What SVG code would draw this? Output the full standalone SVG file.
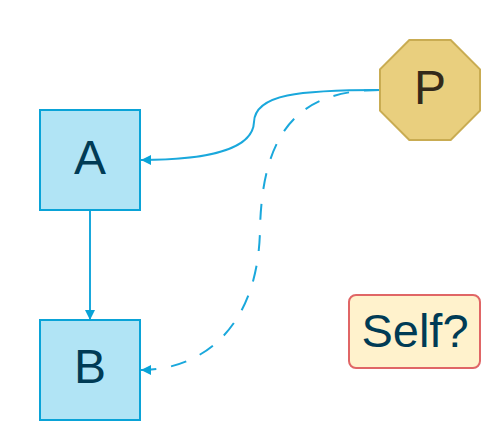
<svg xmlns="http://www.w3.org/2000/svg" width="500" height="440" viewBox="0 0 500 440">
<style>
.box{fill:#b1e4f5;stroke:#0aa3d7;stroke-width:2}
.lbl{font-family:"Liberation Sans",Arial,sans-serif;font-size:48px;text-anchor:middle;fill:#003b55}
.edge{fill:none;stroke:#1aa8dc;stroke-width:2}
</style>
<defs>
<marker id="arr" viewBox="0 0 10 10" refX="10" refY="5" markerWidth="10" markerHeight="10" markerUnits="userSpaceOnUse" orient="auto">
<path d="M0,0 L10,5 L0,10 Z" fill="#0aa3d7"/>
</marker>
</defs>
<rect width="500" height="440" fill="#ffffff"/>
<g id="connectors">
<path class="edge" d="M90,210 L90,320" marker-end="url(#arr)"/>
<path class="edge" d="M380,90 C300,90 255,94 254,122 C253,150 205,160 141,160" marker-end="url(#arr)"/>
<path class="edge" d="M380,90 C300,90 262,130 260,230 C258,330 200,370 141,370" stroke-dasharray="16 15" marker-end="url(#arr)"/>
</g>
<g id="node-A">
<rect class="box" x="40" y="110" width="100" height="100"/>
<text class="lbl" x="90" y="174">A</text>
</g>
<g id="node-B">
<rect class="box" x="40" y="320" width="100" height="100"/>
<text class="lbl" x="90" y="383">B</text>
</g>
<g id="node-P">
<polygon points="409.3,40 450.7,40 480,69.3 480,110.7 450.7,140 409.3,140 380,110.7 380,69.3" fill="#e9cf7e" stroke="#c9ac52" stroke-width="2"/>
<text class="lbl" x="430" y="104" style="fill:#33291a">P</text>
</g>
<g id="node-Self">
<rect x="349" y="295" width="131" height="73" rx="7" ry="7" fill="#fff2cc" stroke="#e06666" stroke-width="2"/>
<text class="lbl" x="415" y="347" style="font-size:47px">Self?</text>
</g>
</svg>
